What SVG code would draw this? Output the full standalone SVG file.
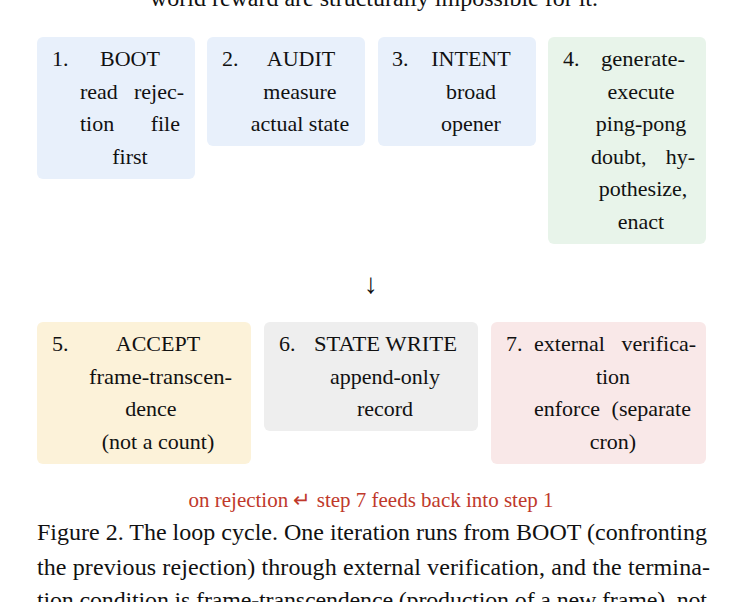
<svg xmlns="http://www.w3.org/2000/svg" width="749" height="602" viewBox="0 0 749 602">
<style>
text{font-family:"Liberation Serif",serif;font-size:22px;fill:#111}
.c{text-anchor:middle}
.e{text-anchor:end}
.cap{font-size:24px}
.blue{fill:#e8f0fb}.green{fill:#e8f4ea}.yel{fill:#fcf2d9}.gray{fill:#eeeeee}.pink{fill:#f9e8e8}
</style>
<rect width="749" height="602" fill="#fff"/>
<text class="cap" x="150" y="6" textLength="448" lengthAdjust="spacingAndGlyphs">world reward are structurally impossible for it.</text>
<g id="n1"><rect class="blue" x="37" y="37" width="158" height="142" rx="6"/>
<text x="52" y="66">1.</text><text class="c" x="130" y="66">BOOT</text>
<text x="80" y="99">read</text><text class="e" x="184" y="99">rejec-</text>
<text x="80" y="131">tion</text><text class="e" x="180" y="131">file</text>
<text class="c" x="130" y="164">first</text></g>
<g id="n2"><rect class="blue" x="207" y="37" width="158" height="109" rx="6"/>
<text x="222" y="66">2.</text><text class="c" x="301" y="66">AUDIT</text>
<text class="c" x="300" y="99">measure</text><text class="c" x="300" y="131">actual state</text></g>
<g id="n3"><rect class="blue" x="378" y="37" width="158" height="109" rx="6"/>
<text x="392" y="66">3.</text><text class="c" x="471" y="66">INTENT</text>
<text class="c" x="471" y="99">broad</text><text class="c" x="471" y="131">opener</text></g>
<g id="n4"><rect class="green" x="548" y="37" width="158" height="207" rx="6"/>
<text x="563" y="66">4.</text><text x="601" y="66" textLength="84" lengthAdjust="spacingAndGlyphs">generate-</text>
<text class="c" x="641" y="99">execute</text><text class="c" x="641" y="131">ping-pong</text>
<text x="591" y="164">doubt,</text><text class="e" x="695" y="164">hy-</text>
<text class="c" x="643" y="196">pothesize,</text><text class="c" x="641" y="229">enact</text></g>
<g id="n5"><rect class="yel" x="37" y="322" width="214" height="142" rx="6"/>
<text x="52" y="351">5.</text><text class="c" x="158" y="351">ACCEPT</text>
<text x="89" y="384" textLength="143" lengthAdjust="spacingAndGlyphs">frame-transcen-</text>
<text class="c" x="151" y="416">dence</text><text class="c" x="158" y="449">(not a count)</text></g>
<g id="n6"><rect class="gray" x="264" y="322" width="214" height="109" rx="6"/>
<text x="279" y="351">6.</text><text x="314" y="351" textLength="143" lengthAdjust="spacingAndGlyphs">STATE WRITE</text>
<text class="c" x="385" y="384">append-only</text><text class="c" x="385" y="416">record</text></g>
<g id="n7"><rect class="pink" x="491" y="322" width="215" height="142" rx="6"/>
<text x="506" y="351">7.</text><text x="534" y="351">external</text><text class="e" x="696" y="351">verifica-</text>
<text class="c" x="613" y="384">tion</text>
<text x="534" y="416">enforce</text><text class="e" x="691" y="416">(separate</text>
<text class="c" x="613" y="449">cron)</text></g>
<g id="connectors"><text class="c" x="371" y="293" style="font-size:28px">↓</text></g>
<text class="c" x="371" y="507" style="fill:#c0392b;font-size:21px">on rejection ↵ step 7 feeds back into step 1</text>
<text class="cap" x="37" y="540" textLength="670" lengthAdjust="spacing">Figure 2. The loop cycle. One iteration runs from BOOT (confronting</text>
<text class="cap" x="37" y="575" textLength="673" lengthAdjust="spacing">the previous rejection) through external verification, and the termina-</text>
<text class="cap" x="37" y="608" textLength="670" lengthAdjust="spacing">tion condition is frame-transcendence (production of a new frame), not</text>
</svg>
